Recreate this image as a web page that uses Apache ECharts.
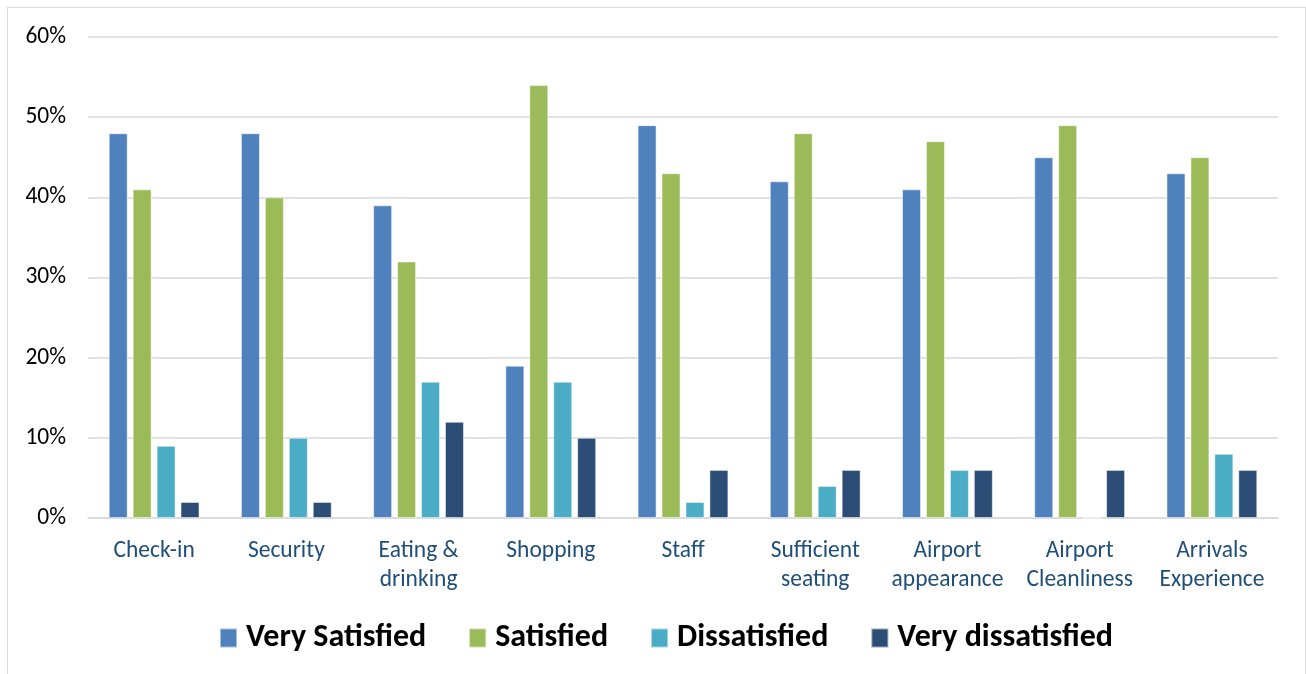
<!DOCTYPE html>
<html><head><meta charset="utf-8">
<script src="https://cdn.jsdelivr.net/npm/echarts@6/dist/echarts.min.js"></script>
<style>
html,body{margin:0;padding:0;background:#fff;overflow:hidden;}
#frame{position:absolute;left:7px;top:7px;width:1299px;height:700px;border:1px solid #d9d9d9;box-sizing:border-box;}
#c{position:absolute;left:0;top:0;width:1306px;height:674px;}
</style></head>
<body><div id="frame"></div><div id="c"></div>
<script>
const categories = ['Check-in','Security','Eating &\ndrinking','Shopping','Staff','Sufficient\nseating','Airport\nappearance','Airport\nCleanliness','Arrivals\nExperience'];
const verySatisfied = [48,48,39,19,49,42,41,45,43];
const satisfied = [41,40,32,54,43,48,47,49,45];
const dissatisfied = [9,10,17,17,2,4,6,0,8];
const veryDissatisfied = [2,2,12,10,6,6,6,6,6];
const seriesNames = ['Very Satisfied','Satisfied','Dissatisfied','Very dissatisfied'];
const colors = ['#4F81BD','#9BBB59','#4BACC6','#2C4D75'];
const FONT = 'Carlito, Calibri, "Open Sans", "Noto Sans", sans-serif';
const chart = echarts.init(document.getElementById('c'));
const data = [verySatisfied, satisfied, dissatisfied, veryDissatisfied];
chart.setOption({
  animation:false,
  color: colors,
  grid:{left:88,right:28,top:37,bottom:156,containLabel:false},
  legend:{top:617,left:214,itemWidth:17,itemHeight:19,itemGap:42,icon:'rect',
    textStyle:{fontFamily:FONT,fontSize:32,fontWeight:'bold',color:'#000',padding:[0,0,0,4]}},
  xAxis:{type:'category',data:categories,
    axisLine:{lineStyle:{color:'#d9d9d9',width:1.5}},axisTick:{show:false},
    axisLabel:{fontFamily:FONT,fontSize:23.5,color:'#1F4E79',lineHeight:29,margin:19,interval:0}},
  yAxis:{type:'value',min:0,max:60,interval:10,
    axisLabel:{formatter:'{value}%',fontFamily:FONT,fontSize:23.5,color:'#000',margin:22},
    splitLine:{lineStyle:{color:'#d9d9d9',width:1.5}},axisLine:{show:false}},
  series: seriesNames.map((n,i)=>({name:n,type:'bar',data:data[i],barWidth:19,barGap:'26%',barCategoryGap:'31%',
    itemStyle:{borderColor:'rgba(255,255,255,0.5)',borderWidth:1}}))
});
</script></body></html>
